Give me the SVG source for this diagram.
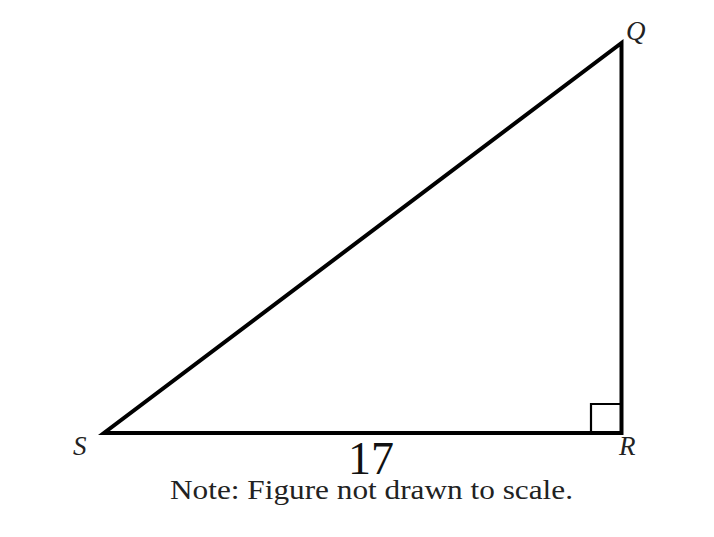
<svg xmlns="http://www.w3.org/2000/svg" width="714" height="537" viewBox="0 0 714 537">
<style>
.edge{stroke:#000;stroke-width:4;fill:none;stroke-linejoin:miter;stroke-linecap:square}
.mark{stroke:#000;stroke-width:2.2;fill:none}
.lbl{font-family:"Liberation Serif",serif;font-style:italic;font-size:27px;fill:#222}
.num{font-family:"Liberation Serif",serif;font-size:46px;fill:#111}
.note{font-family:"Liberation Serif",serif;font-size:27px;fill:#222}
</style>
<rect width="714" height="537" fill="#fff"/>
<g id="connectors">
<polygon class="edge" points="104,433 621.5,433 621.5,43"/>
<polyline class="mark" points="591,433 591,404 621,404"/>
</g>
<g id="S"><text class="lbl" x="73" y="455">S</text></g>
<g id="Q"><text class="lbl" x="626" y="40">Q</text></g>
<g id="R"><text class="lbl" x="619" y="455">R</text></g>
<g id="len"><text class="num" x="371" y="474" text-anchor="middle">17</text></g>
<g id="note"><text class="note" x="170" y="499" textLength="403" lengthAdjust="spacingAndGlyphs">Note: Figure not drawn to scale.</text></g>
</svg>
